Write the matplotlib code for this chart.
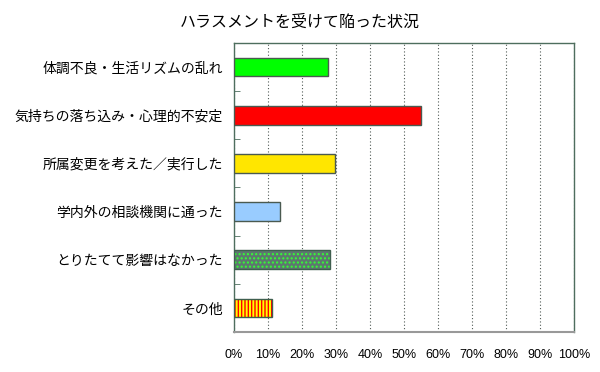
import matplotlib.pyplot as plt
import matplotlib as mpl

plt.rcParams['font.family'] = ['Noto Sans CJK JP', 'DejaVu Sans']
mpl.rcParams['hatch.linewidth'] = 1.0

categories = ["体調不良・生活リズムの乱れ", "気持ちの落ち込み・心理的不安定", "所属変更を考えた／実行した",
              "学内外の相談機関に通った", "とりたてて影響はなかった", "その他"]
values = [27.7, 55.0, 29.6, 13.6, 28.2, 11.1]
face_colors = ["#00FF00", "#FF0000", "#FFE600", "#99CCFF", "#5E7670", "#FFFF00"]
hatch_colors = [None, None, None, None, "#33FF33", "#FF0000"]
hatches = [None, None, None, None, "....", "|||||"]
xticks = [0, 10, 20, 30, 40, 50, 60, 70, 80, 90, 100]

fig = plt.figure(figsize=(6, 3.72), dpi=100)
ax = fig.add_axes([0.39, 0.1075, 0.5667, 0.777])

pos = list(range(len(categories)))
for p, v, fc, hc, h in zip(pos, values, face_colors, hatch_colors, hatches):
    if h:
        ax.barh(p, v, height=0.39, color=fc, edgecolor=hc, hatch=h, linewidth=0, zorder=3)
        ax.barh(p, v, height=0.39, fill=False, edgecolor="#3F5F4F", linewidth=1.0, zorder=4)
    else:
        ax.barh(p, v, height=0.39, color=fc, edgecolor="#4A5A50", linewidth=1.0, zorder=3)

ax.set_xlim(0, 100)
ax.set_ylim(len(categories) - 0.5, -0.5)
ax.set_xticks(xticks)
ax.set_xticklabels(["%d%%" % t for t in xticks], fontsize=9, family=['Liberation Sans', 'DejaVu Sans'])
ax.tick_params(axis="x", length=0, pad=12)

ax.set_yticks(pos)
ax.set_yticklabels(categories, fontsize=10)
ax.tick_params(axis="y", which="major", length=0, pad=8)
ax.set_yticks([p + 0.5 for p in pos[:-1]], minor=True)
ax.tick_params(axis="y", which="minor", direction="in", length=4, color="#4E6E5E")

ax.grid(axis="x", ls=(0, (1, 2)), lw=0.8, color="#505A55", zorder=1)
for s in ax.spines.values():
    s.set_color("#4E6E5E")
    s.set_linewidth(1.0)
ax.spines["bottom"].set_color("#999999")
ax.spines["bottom"].set_linewidth(1.5)

fig.text(0.5, 0.94, "ハラスメントを受けて陥った状況", ha="center", va="center", fontsize=11.5)

plt.savefig("out.png", dpi=100)
